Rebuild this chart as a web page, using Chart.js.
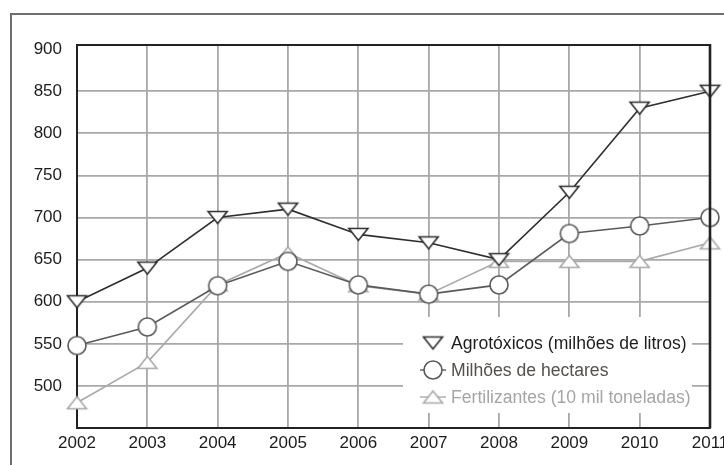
<!DOCTYPE html>
<html>
<head>
<meta charset="utf-8">
<script src="https://cdn.jsdelivr.net/npm/chart.js@4/dist/chart.umd.min.js"></script>
<style>
  html, body { margin: 0; padding: 0; background: #fff; }
  #c { display: block; }
</style>
</head>
<body>
<canvas id="c" width="724" height="465"></canvas>
<script>
// Series by year
const years = ['2002', '2003', '2004', '2005', '2006', '2007', '2008', '2009', '2010', '2011'];
const agrotoxicos = [600, 640, 700, 710, 680, 670, 650, 730, 830, 850];
const hectares = [548, 570, 619, 648, 620, 609, 620, 681, 690, 700];
const fertilizantes = [480, 528, 620, 658, 619, 609, 648, 648, 648, 670];
const yTicks = [500, 550, 600, 650, 700, 750, 800, 850, 900];
const seriesNames = [
  'Agrotóxicos (milhões de litros)',
  'Milhões de hectares',
  'Fertilizantes (10 mil toneladas)'
];

const FONT = '"Liberation Sans", Arial, Helvetica, sans-serif';
const C_AGRO = '#2e2e2e';
const C_HECT = '#5a5a5a';
const C_FERT = '#a9a9a9';

// Flattened triangle markers drawn on small canvases
function triangleMarker(down, stroke) {
  const w = 23, h = 17;
  const cv = document.createElement('canvas');
  cv.width = w; cv.height = h;
  const g = cv.getContext('2d');
  g.beginPath();
  if (down) {
    g.moveTo(2, 2.5); g.lineTo(w - 2, 2.5); g.lineTo(w / 2, h - 2.5);
  } else {
    g.moveTo(2, h - 2.5); g.lineTo(w - 2, h - 2.5); g.lineTo(w / 2, 2.5);
  }
  g.closePath();
  g.fillStyle = '#fff';
  g.fill();
  g.lineWidth = 1.6;
  g.strokeStyle = stroke;
  g.stroke();
  return cv;
}
const downTri = triangleMarker(true, C_AGRO);
const upTri = triangleMarker(false, C_FERT);

function circleMarker(stroke) {
  const s = 22;
  const cv = document.createElement('canvas');
  cv.width = s; cv.height = s;
  const g = cv.getContext('2d');
  g.beginPath();
  g.arc(s / 2, s / 2, 9, 0, Math.PI * 2);
  g.fillStyle = '#fff';
  g.fill();
  g.lineWidth = 1.6;
  g.strokeStyle = stroke;
  g.stroke();
  return cv;
}
const circ = circleMarker(C_HECT);

// Outer frame around the figure
const framePlugin = {
  id: 'figureFrame',
  beforeDraw(chart) {
    const ctx = chart.ctx;
    ctx.save();
    ctx.fillStyle = '#fff';
    ctx.fillRect(0, 0, chart.width, chart.height);
    ctx.strokeStyle = '#6e6e6e';
    ctx.lineWidth = 2;
    ctx.beginPath();
    ctx.moveTo(11, chart.height);
    ctx.lineTo(11, 14);
    ctx.lineTo(chart.width, 14);
    ctx.stroke();
    ctx.restore();
  },
  afterDatasetsDraw(chart) {
    // top and right edges of the plot box
    const a = chart.chartArea;
    const ctx = chart.ctx;
    ctx.save();
    ctx.strokeStyle = '#222';
    ctx.lineWidth = 2;
    ctx.beginPath();
    ctx.moveTo(a.left, a.top);
    ctx.lineTo(a.right, a.top);
    ctx.stroke();
    ctx.lineWidth = 2.6;
    ctx.beginPath();
    ctx.moveTo(a.right, a.top - 1);
    ctx.lineTo(a.right, a.bottom);
    ctx.stroke();
    ctx.restore();
  }
};

// Key drawn inside the plot, over the grid
const keyPlugin = {
  id: 'seriesKey',
  afterDatasetsDraw(chart) {
    const a = chart.chartArea;
    const ctx = chart.ctx;
    const boxL = a.left + 326, boxR = a.right - 18;
    const boxT = a.bottom - 111, boxB = a.bottom - 15;
    ctx.save();
    ctx.fillStyle = '#fff';
    ctx.fillRect(boxL, boxT, boxR - boxL, boxB - boxT);
    const rows = chart.data.datasets.map((ds, i) => ({
      name: seriesNames[i],
      line: ds.borderColor,
      text: ds.keyTextColor,
      marker: ds.pointStyle,
      stub: i > 0
    }));
    const mx = boxL + 30;
    rows.forEach((r, i) => {
      const y = a.bottom - 85 + i * 27;
      if (r.stub) {
        ctx.strokeStyle = r.line;
        ctx.lineWidth = 1.4;
        ctx.beginPath();
        ctx.moveTo(mx - 13, y);
        ctx.lineTo(mx + 13, y);
        ctx.stroke();
      }
      ctx.drawImage(r.marker, mx - r.marker.width / 2, y - r.marker.height / 2);
      ctx.fillStyle = r.text;
      ctx.font = '17.6px ' + FONT;
      ctx.textAlign = 'left';
      ctx.textBaseline = 'middle';
      ctx.fillText(r.name, boxL + 48, y + 1);
    });
    ctx.restore();
  }
};

new Chart(document.getElementById('c'), {
  type: 'line',
  data: {
    labels: years,
    datasets: [
      {
        label: seriesNames[0],
        data: agrotoxicos,
        borderColor: C_AGRO,
        borderWidth: 1.6,
        pointStyle: downTri,
        keyTextColor: '#1e1e1e',
        clip: false,
        tension: 0
      },
      {
        label: seriesNames[1],
        data: hectares,
        borderColor: C_HECT,
        borderWidth: 1.6,
        pointStyle: circ,
        keyTextColor: '#55504d',
        clip: false,
        tension: 0
      },
      {
        label: seriesNames[2],
        data: fertilizantes,
        borderColor: C_FERT,
        borderWidth: 1.6,
        pointStyle: upTri,
        keyTextColor: '#a5a5a5',
        clip: false,
        tension: 0
      }
    ]
  },
  options: {
    responsive: false,
    animation: false,
    devicePixelRatio: 1,
    layout: { padding: { left: 0, top: 45, right: 14, bottom: 0 } },
    plugins: {
      legend: { display: false },
      tooltip: { enabled: false }
    },
    scales: {
      x: {
        type: 'category',
        offset: false,
        grid: { color: '#a8a8a8', lineWidth: 1.8, drawTicks: false, offset: false },
        border: { display: true, color: '#222', width: 2 },
        ticks: {
          autoSkip: false, maxRotation: 0, padding: 5,
          color: '#1c1c1c', font: { family: FONT, size: 17 }
        },
        afterFit(s) { s.height = 37; s.paddingLeft = 0; s.paddingRight = 0; }
      },
      y: {
        min: 450,
        max: 905,
        grid: {
          color: ctx => (ctx.tick && ctx.tick.value === 900) ? 'rgba(0,0,0,0)' : '#a8a8a8',
          lineWidth: 1.8,
          drawTicks: false
        },
        border: { display: true, color: '#222', width: 2 },
        ticks: {
          padding: 15,
          color: '#1c1c1c', font: { family: FONT, size: 17 }
        },
        afterBuildTicks(s) { s.ticks = yTicks.map(v => ({ value: v })); },
        afterFit(s) { s.width = 77; s.paddingTop = 0; s.paddingBottom = 0; }
      }
    }
  },
  plugins: [framePlugin, keyPlugin]
});
</script>
</body>
</html>
